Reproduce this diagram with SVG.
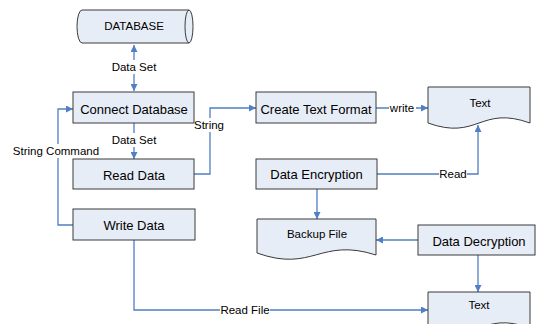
<svg xmlns="http://www.w3.org/2000/svg" width="536" height="324" viewBox="0 0 536 324">
  <style>
    .box { fill: #e7edf7; stroke: #3a3a3a; stroke-width: 1; }
    .lbl { font-family: "Liberation Sans", Arial, sans-serif; font-size: 13px; fill: #000; text-anchor: middle; dominant-baseline: central; }
    .sm { font-family: "Liberation Sans", Arial, sans-serif; font-size: 11.5px; fill: #000; text-anchor: middle; dominant-baseline: central; }
    .cn { fill: none; stroke: #4f7fc4; stroke-width: 1.3; }
    .bg { fill: #ffffff; }
  </style>
  <defs>
    <marker id="arr" viewBox="0 0 10 10" refX="10" refY="5" markerWidth="7" markerHeight="7" markerUnits="userSpaceOnUse" orient="auto-start-reverse">
      <path d="M0,0 L10,5 L0,10 Z" fill="#4f7fc4"/>
    </marker>
  </defs>
  <rect width="536" height="324" fill="#ffffff"/>

  <!-- connectors -->
  <g id="connectors">
    <path class="cn" d="M134,45 V91" marker-start="url(#arr)" marker-end="url(#arr)"/>
    <path class="cn" d="M134,123 V159" marker-end="url(#arr)"/>
    <path class="cn" d="M73,225 H58 V109 H73" marker-end="url(#arr)"/>
    <path class="cn" d="M194,174 H210 V108 H256" marker-end="url(#arr)"/>
    <path class="cn" d="M376,108 H428" marker-end="url(#arr)"/>
    <path class="cn" d="M377,174 H478 V125" marker-end="url(#arr)"/>
    <path class="cn" d="M317,189 V219" marker-end="url(#arr)"/>
    <path class="cn" d="M418,240 H376" marker-end="url(#arr)"/>
    <path class="cn" d="M478,255 V292" marker-end="url(#arr)"/>
    <path class="cn" d="M134,240 V310 H428" marker-end="url(#arr)"/>

    <!-- connector labels -->
    <rect class="bg" x="110" y="60" width="48" height="14"/>
    <text class="sm" x="134" y="67">Data Set</text>
    <rect class="bg" x="110" y="133" width="48" height="14"/>
    <text class="sm" x="134" y="140">Data Set</text>
    <rect class="bg" x="12" y="144" width="88" height="14"/>
    <text class="sm" x="56" y="151">String Command</text>
    <rect class="bg" x="193" y="118" width="33" height="14"/>
    <text class="sm" x="209" y="125">String</text>
    <rect class="bg" x="389" y="101" width="27" height="14"/>
    <text class="sm" x="402" y="108">write</text>
    <rect class="bg" x="439" y="167" width="28" height="14"/>
    <text class="sm" x="453" y="174">Read</text>
    <rect class="bg" x="220" y="303" width="50" height="14"/>
    <text class="sm" x="245" y="310">Read File</text>
  </g>

  <!-- nodes -->
  <g id="database">
    <path class="box" d="M82,10 H189 A4,16.5 0 0 1 189,43 H82 A5,16.5 0 0 1 82,10 Z"/>
    <path fill="none" stroke="#3a3a3a" stroke-width="1" d="M189,10 A4,16.5 0 0 0 189,43"/>
    <text class="sm" x="134" y="26">DATABASE</text>
  </g>
  <g id="connect-database">
    <rect class="box" x="73" y="92" width="121" height="31"/>
    <text class="lbl" x="134" y="109.5">Connect Database</text>
  </g>
  <g id="read-data">
    <rect class="box" x="73" y="159" width="121" height="30"/>
    <text class="lbl" x="134" y="175">Read Data</text>
  </g>
  <g id="write-data">
    <rect class="box" x="73" y="209" width="122" height="31"/>
    <text class="lbl" x="134" y="225">Write Data</text>
  </g>
  <g id="create-text-format">
    <rect class="box" x="256" y="92" width="120" height="31"/>
    <text class="lbl" x="316" y="109">Create Text Format</text>
  </g>
  <g id="data-encryption">
    <rect class="box" x="256" y="159" width="121" height="30"/>
    <text class="lbl" x="316.5" y="174.5">Data Encryption</text>
  </g>
  <g id="data-decryption">
    <rect class="box" x="418" y="225" width="117" height="30"/>
    <text class="lbl" x="479" y="241">Data Decryption</text>
  </g>
  <g id="text-output">
    <path class="box" d="M428,87 H530 V123 C480,105 478,141 428,123 Z"/>
    <text class="sm" x="480" y="103">Text</text>
  </g>
  <g id="backup-file">
    <path class="box" d="M257,219 H376 V255 C320,237 313,273 257,253 Z"/>
    <text class="sm" x="317" y="234">Backup File</text>
  </g>
  <g id="text-restored">
    <path class="box" d="M428,292 H530 V328 C480,310 478,346 428,328 Z"/>
    <text class="sm" x="479" y="305">Text</text>
  </g>
</svg>
